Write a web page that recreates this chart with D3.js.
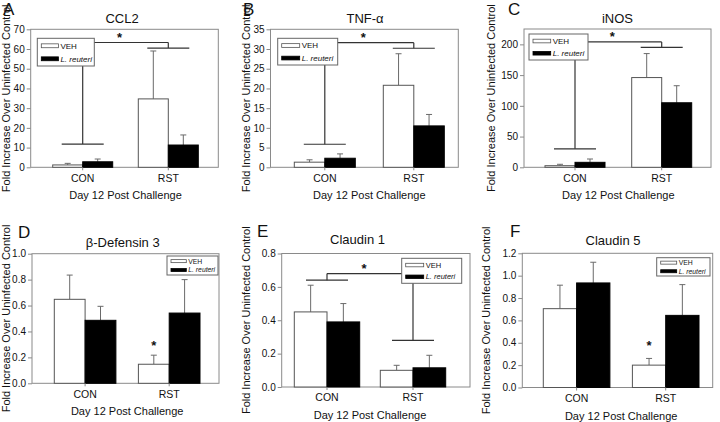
<!DOCTYPE html>
<html><head><meta charset="utf-8">
<script src="https://cdn.jsdelivr.net/npm/d3@7"></script>
<style>
body{margin:0;background:#fff}
svg{display:block}
text{font-family:"Liberation Sans",Arial,Helvetica,sans-serif;fill:#111}
</style>
</head><body>
<svg id="c" width="720" height="422"></svg>
<script>
// ---------------- data ----------------
const categories = ["CON", "RST"];
const seriesNames = ["VEH", "L. reuteri"];
const panelLetters = ["A", "B", "C", "D", "E", "F"];
const panelTitles = ["CCL2", "TNF-α", "iNOS", "β-Defensin 3", "Claudin 1", "Claudin 5"];
const xAxisTitle = "Day 12 Post Challenge";
const yAxisTitle = "Fold Increase Over Uninfected Control";
const yMax = [70, 35, 225, 1.0, 0.8, 1.2];
const yTickStep = [10, 5, 50, 0.2, 0.2, 0.2];
const yTickMax = [70, 35, 200, 1.0, 0.8, 1.2];

// means per panel: [CON, RST]
const vehMeans     = [[1.2, 34.7], [1.3, 20.8], [2.6, 146], [0.648, 0.147], [0.45, 0.10], [0.705, 0.20]];
const vehErrors    = [[0.8, 24.3], [0.6, 8.0],  [2.3, 39],  [0.187, 0.07],  [0.16, 0.03], [0.21, 0.06]];
const reuteriMeans = [[2.8, 11.3], [2.3, 10.5], [8.1, 105], [0.486, 0.542], [0.39, 0.115], [0.935, 0.645]];
const reuteriErrors= [[1.4, 5.1],  [1.1, 2.9],  [5.4, 27.7],[0.108, 0.258], [0.11, 0.075], [0.185, 0.275]];

// significance brackets: [CON level, RST level, joining level] (null = none)
const brackets = [[11.8, 60.5, 63.3], [5.85, 30.2, 31.6], [30, 195, 204], null, [0.64, 0.28, 0.68], null];
// star above RST VEH bar (value), null = none
const barStars = [null, null, null, 0.308, null, 0.397];

// ---------------- layout ----------------
const layout = [
  {l:30.7, r:218.3, t:29.3, b:167.3, bl:52.7, br:198.3, bw:30,
   leg:{x:37.3,y:38.3,w:57,h:27.7,fs:8}, title:[122,23], letter:[3,15], ytx:6.5},
  {l:270.5, r:458.3, t:29.3, b:167.3, bl:294.3, br:444.3, bw:30.5,
   leg:{x:277.7,y:38.3,w:60,h:26.7,fs:8}, title:[365,23], letter:[243,15], ytx:246},
  {l:524, r:711, t:29, b:167.3, bl:545, br:691.7, bw:30,
   leg:{x:529,y:34,w:59,h:26,fs:8}, title:[617.5,23], letter:[508,15], ytx:491},
  {l:32, r:219, t:253.7, b:383.3, bl:54.3, br:200, bw:30.8,
   leg:{x:167,y:256,w:51,h:19,fs:6.8}, title:[122.7,247], letter:[18,238], ytx:6},
  {l:281.7, r:470, t:253.5, b:387, bl:294.3, br:445.7, bw:32.7,
   leg:{x:401.7,y:258.3,w:60,h:25,fs:7.5}, title:[357.5,244], letter:[257,237], ytx:246},
  {l:522.3, r:712.7, t:253.3, b:387.5, bl:543.3, br:699, bw:33.3,
   leg:{x:656.7,y:257.7,w:53.3,h:18.3,fs:6.8}, title:[613,245], letter:[510,237], ytx:486}
];

const FRAME = "#8a8a8a", BAR_EDGE = "#555", ERR = "#6a6a6a", BRK = "#333";
const svg = d3.select("#c");

layout.forEach((L, i) => {
  const g = svg.append("g");
  const gap = (L.br - L.bl) - 4 * L.bw;
  const step = 2 * L.bw + gap;
  const x = d3.scaleBand().domain(categories).range([L.bl, L.br])
              .paddingInner(gap / step).paddingOuter(0);
  const xs = d3.scaleBand().domain(seriesNames).range([0, x.bandwidth()]).padding(0);
  const y = d3.scaleLinear().domain([0, yMax[i]]).range([L.b, L.t]);

  // frame
  g.append("rect").attr("x", L.l).attr("y", L.t).attr("width", L.r - L.l).attr("height", L.b - L.t)
    .attr("fill", "#fff").attr("stroke", FRAME).attr("stroke-width", 1);

  // data rows
  const rows = [];
  categories.forEach((c, ci) => {
    rows.push({cat:c, ser:seriesNames[0], v:vehMeans[i][ci], e:vehErrors[i][ci]});
    rows.push({cat:c, ser:seriesNames[1], v:reuteriMeans[i][ci], e:reuteriErrors[i][ci]});
  });

  // error bars (upper only)
  rows.forEach(d => {
    const cx = x(d.cat) + xs(d.ser) + xs.bandwidth() / 2;
    g.append("line").attr("x1", cx).attr("x2", cx).attr("y1", y(d.v)).attr("y2", y(d.v + d.e))
      .attr("stroke", ERR).attr("stroke-width", 1);
    g.append("line").attr("x1", cx - 3).attr("x2", cx + 3).attr("y1", y(d.v + d.e)).attr("y2", y(d.v + d.e))
      .attr("stroke", ERR).attr("stroke-width", 1);
  });

  // bars
  g.selectAll("rect.bar").data(rows).enter().append("rect").attr("class", "bar")
    .attr("x", d => x(d.cat) + xs(d.ser))
    .attr("width", xs.bandwidth())
    .attr("y", d => y(d.v))
    .attr("height", d => y(0) - y(d.v))
    .attr("fill", d => d.ser === seriesNames[0] ? "#fff" : "#000")
    .attr("stroke", d => d.ser === seriesNames[0] ? BAR_EDGE : "#000")
    .attr("stroke-width", 1);

  // brackets
  const bk = brackets[i];
  if (bk) {
    const cxs = categories.map(c => x(c) + x.bandwidth() / 2);
    cxs.forEach((cx, ci) => {
      g.append("line").attr("x1", cx - 21).attr("x2", cx + 21).attr("y1", y(bk[ci])).attr("y2", y(bk[ci]))
        .attr("stroke", BRK).attr("stroke-width", 1.2);
      g.append("line").attr("x1", cx).attr("x2", cx).attr("y1", y(bk[ci])).attr("y2", y(bk[2]))
        .attr("stroke", BRK).attr("stroke-width", 1.2);
    });
    g.append("line").attr("x1", cxs[0]).attr("x2", cxs[1]).attr("y1", y(bk[2])).attr("y2", y(bk[2]))
      .attr("stroke", BRK).attr("stroke-width", 1.2);
    g.append("text").attr("x", (cxs[0] + cxs[1]) / 2 - 6).attr("y", y(bk[2]) - 0.5)
      .attr("text-anchor", "middle").attr("font-size", 13).attr("font-weight", "bold").text("*");
  }
  if (barStars[i] !== null) {
    const cx = x(categories[1]) + xs(seriesNames[0]) + xs.bandwidth() / 2;
    g.append("text").attr("x", cx).attr("y", y(barStars[i]) + 6.5)
      .attr("text-anchor", "middle").attr("font-size", 13).attr("font-weight", "bold").text("*");
  }

  // legend
  const lg = L.leg;
  g.append("rect").attr("x", lg.x).attr("y", lg.y).attr("width", lg.w).attr("height", lg.h)
    .attr("fill", "#fff").attr("stroke", "#666").attr("stroke-width", 1);
  seriesNames.forEach((s, si) => {
    const cy = lg.y + lg.h * (si === 0 ? 0.27 : 0.74);
    const sh = Math.max(3, lg.h * 0.14);
    g.append("rect").attr("x", lg.x + 4).attr("y", cy - sh / 2).attr("width", lg.w * 0.3).attr("height", sh)
      .attr("fill", si === 0 ? "#fff" : "#000").attr("stroke", si === 0 ? "#555" : "#000").attr("stroke-width", 0.8);
    g.append("text").attr("x", lg.x + 6 + lg.w * 0.3).attr("y", cy).attr("dy", "0.35em")
      .attr("font-size", lg.fs).attr("font-style", si === 1 ? "italic" : "normal").text(s);
  });

  // y axis
  const ticks = d3.range(0, yTickMax[i] + yTickStep[i] / 2, yTickStep[i]);
  const fmt = i < 3 ? d3.format("d") : d3.format(".1f");
  const ya = g.append("g").attr("transform", `translate(${L.l},0)`)
    .call(d3.axisLeft(y).tickValues(ticks).tickFormat(fmt).tickSize(4).tickPadding(2));
  ya.select(".domain").remove();
  ya.selectAll("line").attr("stroke", FRAME);
  ya.selectAll("text").attr("font-size", 10).attr("fill", "#111")
    .style("font-family", '"Liberation Sans",Arial,sans-serif');

  // x axis
  const xa = g.append("g").attr("transform", `translate(0,${L.b})`)
    .call(d3.axisBottom(x).tickSize(3).tickPadding(4));
  xa.select(".domain").remove();
  xa.selectAll("line").attr("stroke", FRAME);
  xa.selectAll("text").attr("font-size", 10.5).attr("fill", "#111")
    .style("font-family", '"Liberation Sans",Arial,sans-serif');

  // titles
  g.append("text").attr("x", (L.bl + L.br) / 2).attr("y", L.b + 32)
    .attr("text-anchor", "middle").attr("font-size", 11).text(xAxisTitle);
  g.append("text").attr("transform", `translate(${L.ytx},${(L.t + L.b) / 2}) rotate(-90)`)
    .attr("text-anchor", "middle").attr("dy", "0.35em").attr("font-size", 11).text(yAxisTitle);
  g.append("text").attr("x", L.title[0]).attr("y", L.title[1])
    .attr("text-anchor", "middle").attr("font-size", 13).text(panelTitles[i]);
  g.append("text").attr("x", L.letter[0]).attr("y", L.letter[1])
    .attr("font-size", 17).text(panelLetters[i]);
});
</script>
</body></html>
